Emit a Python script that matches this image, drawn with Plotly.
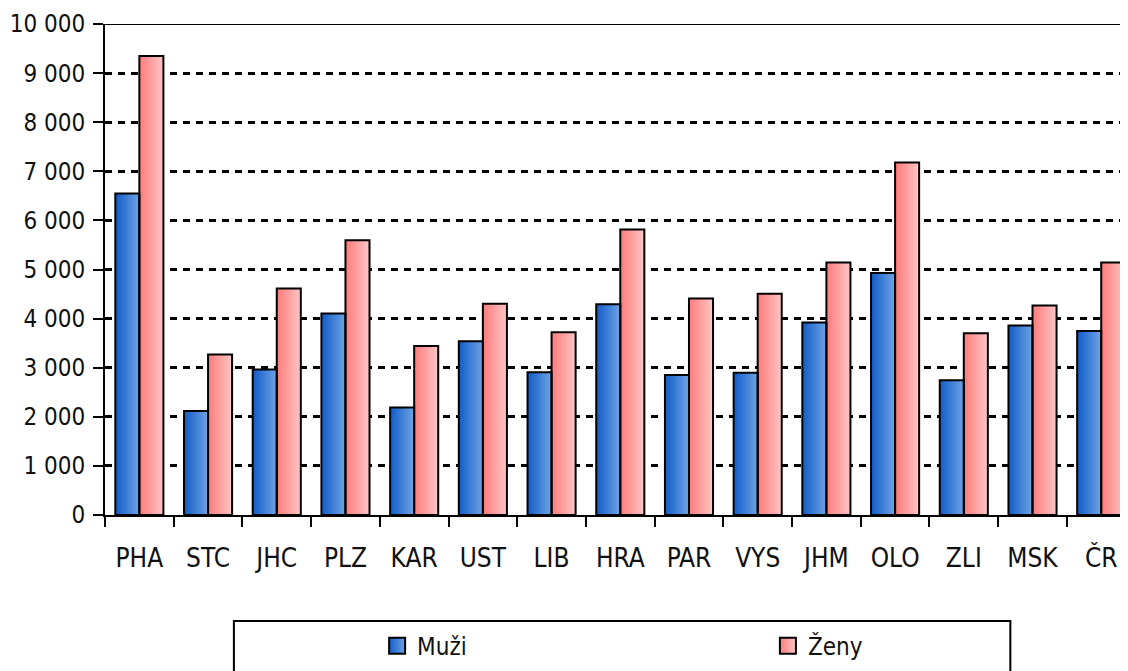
import plotly.graph_objects as go

categories = ["PHA", "STC", "JHC", "PLZ", "KAR", "UST", "LIB", "HRA", "PAR", "VYS", "JHM", "OLO", "ZLI", "MSK", "ČR"]
muzi = [6550, 2120, 2965, 4105, 2190, 3540, 2905, 4290, 2850, 2895, 3920, 4930, 2745, 3860, 3745]
zeny = [9350, 3270, 4615, 5595, 3440, 4300, 3720, 5815, 4410, 4505, 5145, 7180, 3700, 4265, 5145]
series_names = ["Muži", "Ženy"]

FONT = "DejaVu Sans Condensed, Liberation Sans Narrow, sans-serif"
FS = 26
FS_Y = 24
FS_LEG = 24
W = 0.35
N = 18

blue_l, blue_r = (20, 94, 200), (108, 162, 228)
pink_l, pink_r = (255, 125, 125), (255, 196, 196)


def mix(a, b, t):
    return "rgb(%d,%d,%d)" % tuple(round(a[k] + (b[k] - a[k]) * t) for k in range(3))


fig = go.Figure()

specs = [(muzi, -W, blue_l, blue_r), (zeny, 0.0, pink_l, pink_r)]

# gradient strips
for vals, off, cl, cr in specs:
    for i in range(N):
        t = i / (N - 1)
        fig.add_trace(go.Bar(
            x=categories, y=vals, offset=off + i * W / N, width=W - i * W / N,
            marker=dict(color=mix(cl, cr, t), line=dict(width=0)),
            showlegend=False, hoverinfo="skip"))

# outlines
for (vals, off, cl, cr), name in zip(specs, series_names):
    fig.add_trace(go.Bar(
        x=categories, y=vals, offset=off, width=W, name=name,
        marker=dict(color="rgba(0,0,0,0)", line=dict(color="black", width=2)),
        showlegend=False))

# legend entries
for (vals, off, cl, cr), name, lg in zip(specs, series_names, ["legend", "legend2"]):
    fig.add_trace(go.Scatter(
        x=[None], y=[None], mode="markers", name=name, legend=lg,
        marker=dict(symbol="square", size=18, color=mix(cl, cr, 0.0),
                    gradient=dict(type="horizontal", color=mix(cl, cr, 1.0)),
                    line=dict(color="black", width=2))))

leg_common = dict(orientation="h", yanchor="middle", xanchor="left", y=-0.267,
                  itemsizing="trace", font=dict(family=FONT, size=FS_LEG, color="#111"),
                  bgcolor="rgba(0,0,0,0)", borderwidth=0)

fig.update_layout(
    width=1120, height=663,
    margin=dict(l=97, r=0, t=16, b=156),
    paper_bgcolor="white", plot_bgcolor="white",
    barmode="overlay",
    separators=", ",
    font=dict(family=FONT, size=FS, color="#111"),
    showlegend=True,
    legend=dict(x=0.266, **leg_common),
    legend2=dict(x=0.648, **leg_common),
    shapes=[
        dict(type="rect", xref="paper", yref="paper", x0=0.126, x1=0.885, y0=-0.216, y1=-0.33,
             line=dict(color="black", width=2), fillcolor="rgba(0,0,0,0)"),
        dict(type="line", xref="paper", yref="y", x0=0, x1=1, y0=10000, y1=10000,
             line=dict(color="black", width=2)),
    ],
)

fig.update_xaxes(
    type="category", range=[-0.5, 14.39], automargin=False,
    showline=True, linecolor="black", linewidth=2,
    ticks="outside", tickson="boundaries", ticklen=10, tickwidth=2, tickcolor="black",
    showgrid=False, ticklabelstandoff=19,
    tickfont=dict(family=FONT, size=FS, color="#111"))

fig.update_yaxes(
    range=[0, 10000], tickvals=list(range(0, 10001, 1000)), tickformat=",d",
    automargin=False,
    showline=True, linecolor="black", linewidth=2,
    ticks="outside", ticklen=10, tickwidth=2, tickcolor="black",
    showgrid=True, gridcolor="black", gridwidth=2.5, griddash="7px,6px",
    zeroline=False, ticklabelstandoff=3,
    tickfont=dict(family=FONT, size=FS_Y, color="#111"))

fig.write_html("out.html")
